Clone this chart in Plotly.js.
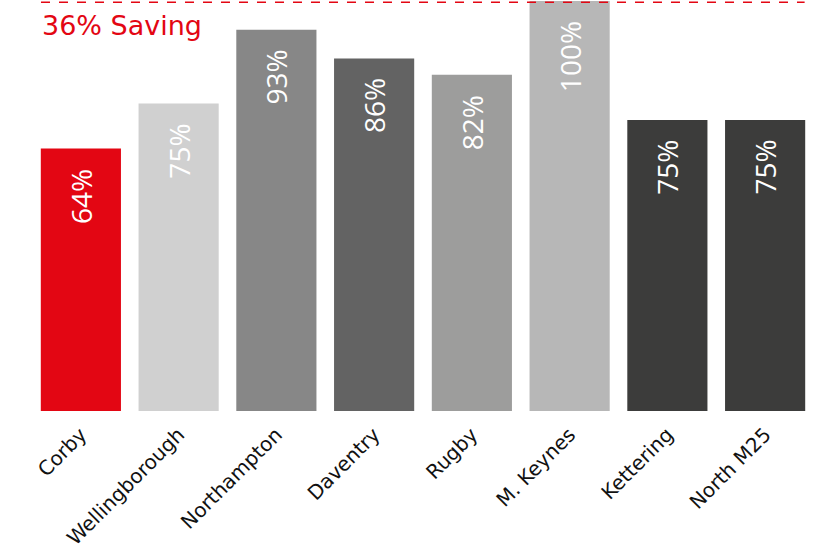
<!DOCTYPE html>
<html>
<head>
<meta charset="utf-8">
<script src="https://cdn.plot.ly/plotly-3.0.1.min.js"></script>
<style>html,body{margin:0;padding:0;background:#fff;}#chart{width:827px;height:550px;}</style>
</head>
<body>
<div id="chart"></div>
<script>
var categories = ['Corby', 'Wellingborough', 'Northampton', 'Daventry', 'Rugby', 'M. Keynes', 'Kettering', 'North M25'];
var values = [64, 75, 93, 86, 82, 100, 71, 71];
var valueLabels = ['64%', '75%', '93%', '86%', '82%', '100%', '75%', '75%'];
var barColors = ['#e30613', '#d0d0d0', '#878787', '#636363', '#9d9d9c', '#b7b7b7', '#3c3c3b', '#3c3c3b'];
var savingLabel = '36% Saving';
var referenceLevel = 100;

var trace = {
  type: 'bar',
  x: categories,
  y: values,
  marker: {color: barColors},
  hoverinfo: 'none',
  showlegend: false
};

var annotations = categories.map(function (c, i) {
  return {
    x: c, y: values[i], xref: 'x', yref: 'y',
    text: valueLabels[i], showarrow: false, textangle: -90,
    xanchor: 'center', yanchor: 'top', yshift: -18,
    font: {family: 'Open Sans, sans-serif', size: 28, color: '#ffffff'}
  };
});
annotations.push({
  xref: 'paper', yref: 'paper', x: 0.0105, y: 0.941,
  xanchor: 'left', yanchor: 'middle', showarrow: false,
  text: savingLabel,
  font: {family: 'DejaVu Sans, sans-serif', size: 27, color: '#e30613'}
});

var layout = {
  width: 827, height: 550,
  margin: {l: 32, r: 13, t: 1, b: 139},
  paper_bgcolor: '#ffffff', plot_bgcolor: '#ffffff',
  bargap: 0.18,
  xaxis: {
    type: 'category', tickangle: -45, showgrid: false, zeroline: false,
    showline: false, ticks: '', ticklabelstandoff: 7,
    tickfont: {family: 'DejaVu Sans, sans-serif', size: 20, color: '#111111'}
  },
  yaxis: {range: [0, 100], visible: false, fixedrange: true},
  shapes: [{
    type: 'line', xref: 'paper', yref: 'y', x0: 0.0115, x1: 0.988,
    y0: referenceLevel - 0.3, y1: referenceLevel - 0.3,
    line: {color: '#e30613', width: 1.5, dash: 'dash'}
  }],
  annotations: annotations
};

Plotly.newPlot('chart', [trace], layout, {displayModeBar: false, staticPlot: true});
</script>
</body>
</html>
